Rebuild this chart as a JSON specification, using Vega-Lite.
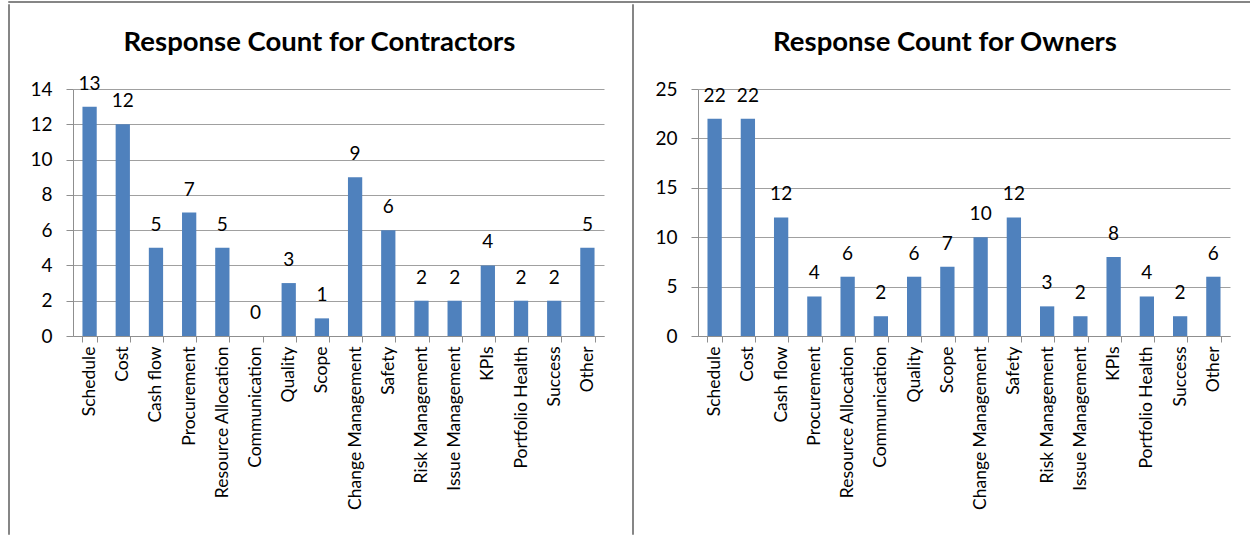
{
  "$schema": "https://vega.github.io/schema/vega-lite/v6.json",
  "padding": {"left": 7, "top": 0, "right": 0, "bottom": 0},
  "background": "white",
  "datasets": {
    "contractors": [
      {"category": "Schedule", "count": 13},
      {"category": "Cost", "count": 12},
      {"category": "Cash flow", "count": 5},
      {"category": "Procurement", "count": 7},
      {"category": "Resource Allocation", "count": 5},
      {"category": "Communication", "count": 0},
      {"category": "Quality", "count": 3},
      {"category": "Scope", "count": 1},
      {"category": "Change Management", "count": 9},
      {"category": "Safety", "count": 6},
      {"category": "Risk Management", "count": 2},
      {"category": "Issue Management", "count": 2},
      {"category": "KPIs", "count": 4},
      {"category": "Portfolio Health", "count": 2},
      {"category": "Success", "count": 2},
      {"category": "Other", "count": 5}
    ],
    "owners": [
      {"category": "Schedule", "count": 22},
      {"category": "Cost", "count": 22},
      {"category": "Cash flow", "count": 12},
      {"category": "Procurement", "count": 4},
      {"category": "Resource Allocation", "count": 6},
      {"category": "Communication", "count": 2},
      {"category": "Quality", "count": 6},
      {"category": "Scope", "count": 7},
      {"category": "Change Management", "count": 10},
      {"category": "Safety", "count": 12},
      {"category": "Risk Management", "count": 3},
      {"category": "Issue Management", "count": 2},
      {"category": "KPIs", "count": 8},
      {"category": "Portfolio Health", "count": 4},
      {"category": "Success", "count": 2},
      {"category": "Other", "count": 6}
    ]
  },
  "spacing": 0,
  "vconcat": [
    {
      "width": 1242, "height": 1,
      "data": {"values": []},
      "mark": "rule", "encoding": {},
      "view": {"stroke": "#868686", "strokeWidth": 1}
    },
    {
      "spacing": 27,
      "hconcat": [
        {
          "spacing": 0,
          "hconcat": [
            {
              "width": 1, "height": 530,
              "data": {"values": []},
              "mark": "rule", "encoding": {},
              "view": {"stroke": "#868686", "strokeWidth": 1}
            },
            {
              "width": 531, "height": 332,
              "title": {"text": "Response Count for Contractors"},
              "data": {"name": "contractors"},
              "encoding": {
                "x": {"field": "category", "type": "nominal", "sort": null,
                      "scale": {"paddingInner": 0.57, "paddingOuter": 0.285}},
                "y": {"field": "count", "type": "quantitative",
                      "scale": {"domain": [0, 14], "nice": false, "range": [332, 85]},
                      "axis": {"values": [0, 2, 4, 6, 8, 10, 12, 14], "minExtent": 63, "maxExtent": 63}}
              },
              "layer": [
                {"mark": {"type": "bar", "color": "#4F81BD"}},
                {"mark": {"type": "text", "baseline": "alphabetic", "dy": -17, "fontSize": 19, "font": "Lato", "color": "#000"},
                 "encoding": {"text": {"field": "count", "type": "quantitative"}}}
              ]
            }
          ]
        },
        {
          "spacing": 0,
          "hconcat": [
            {
              "width": 1, "height": 530,
              "data": {"values": []},
              "mark": "rule", "encoding": {},
              "view": {"stroke": "#868686", "strokeWidth": 1}
            },
            {
              "width": 532, "height": 332,
              "title": {"text": "Response Count for Owners"},
              "data": {"name": "owners"},
              "encoding": {
                "x": {"field": "category", "type": "nominal", "sort": null,
                      "scale": {"paddingInner": 0.57, "paddingOuter": 0.285}},
                "y": {"field": "count", "type": "quantitative",
                      "scale": {"domain": [0, 25], "nice": false, "range": [332, 85]},
                      "axis": {"values": [0, 5, 10, 15, 20, 25], "minExtent": 64, "maxExtent": 64}}
              },
              "layer": [
                {"mark": {"type": "bar", "color": "#4F81BD"}},
                {"mark": {"type": "text", "baseline": "alphabetic", "dy": -17, "fontSize": 19, "font": "Lato", "color": "#000"},
                 "encoding": {"text": {"field": "count", "type": "quantitative"}}}
              ]
            }
          ]
        }
      ]
    }
  ],
  "config": {
    "view": {"stroke": null},
    "font": "Lato",
    "title": {
      "font": "Lato", "fontSize": 27.5, "fontWeight": "bold", "color": "#000",
      "frame": "group", "anchor": "middle", "dx": -19, "offset": -52
    },
    "axis": {
      "title": null,
      "labelFont": "Lato", "labelColor": "#000",
      "domainColor": "#8f8f8f", "tickColor": "#8f8f8f", "gridColor": "#a0a0a0",
      "domainWidth": 1, "tickWidth": 1, "gridWidth": 1
    },
    "axisX": {
      "labelAngle": -90, "labelFontSize": 17.5, "labelPadding": 4,
      "tickSize": 6, "tickBand": "extent", "grid": false, "labelOverlap": false
    },
    "axisY": {
      "labelFontSize": 19, "labelPadding": 14, "tickSize": 7, "grid": true
    }
  }
}
